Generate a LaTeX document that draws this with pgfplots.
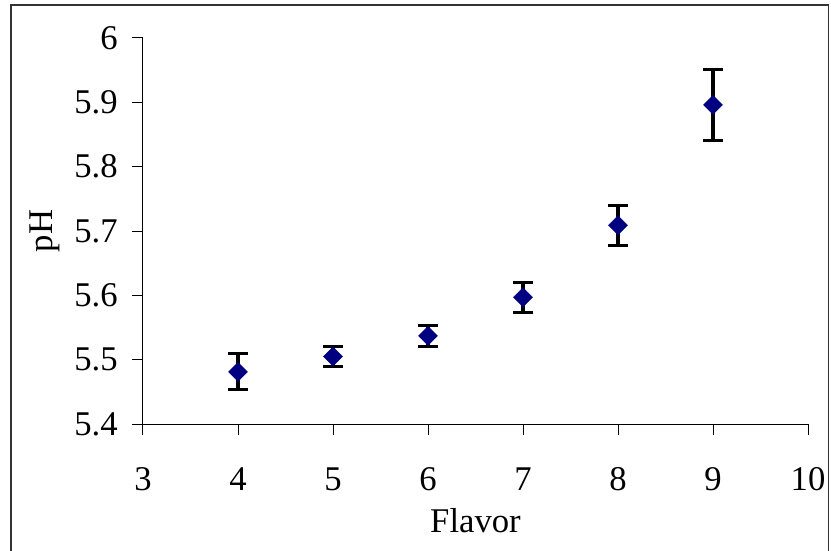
\documentclass[border=0pt]{standalone}
\usepackage{pgfplots}
\pgfplotsset{compat=1.18}
\usepackage{fontspec}
\setmainfont{Liberation Serif}
\definecolor{navyc}{HTML}{000080}
\pgfplotstableread{
x y e
4 5.481 0.028
5 5.505 0.015
6 5.537 0.016
7 5.597 0.023
8 5.709 0.031
9 5.896 0.055
}\phdata
\begin{document}
\begin{tikzpicture}[x=0.75pt,y=0.75pt]
\useasboundingbox (0,0) rectangle (831,550);
\draw[line width=1.1pt, black!80] (11,-10) rectangle (828.5,545);
\begin{axis}[
 at={(107.25pt,94.5pt)}, anchor=south west, scale only axis,
 width=498.75pt, height=289.5pt,
 xmin=3, xmax=10, ymin=5.4, ymax=6,
 xtick={3,4,5,6,7,8,9,10},
 ytick={5.4,5.5,5.6,5.7,5.8,5.9,6},
 axis x line*=bottom, axis y line*=left,
 axis line style={black, line width=0.75pt},
 tick style={black, line width=0.75pt},
 major tick length=8pt, tick align=outside,
 /pgf/number format/assume math mode=true,
 /pgf/number format/fixed,
 /pgf/number format/precision=1,
 every tick label/.append style={font=\fontsize{26}{30}\selectfont},
 xticklabel style={yshift=-21pt},
 yticklabel style={xshift=-7.5pt},
 label style={font=\fontsize{26}{30}\selectfont},
 xlabel={Flavor}, ylabel={pH},
 xlabel style={at={(axis description cs:0.5,-0.2798)}, anchor=base},
 ylabel style={at={(axis description cs:-0.147,0.5)}, anchor=center},
]
\addplot[only marks, mark=square*, mark size=5pt,
  mark options={rotate=45, fill=navyc, draw=navyc},
  error bars/.cd, y dir=both, y explicit,
  error bar style={solid, black, line width=2.3pt},
  error mark=-, error mark options={solid, black, line width=2.3pt, mark size=7.5pt, rotate=90}]
  table[x=x, y=y, y error=e] {\phdata};
\end{axis}
\end{tikzpicture}
\end{document}
